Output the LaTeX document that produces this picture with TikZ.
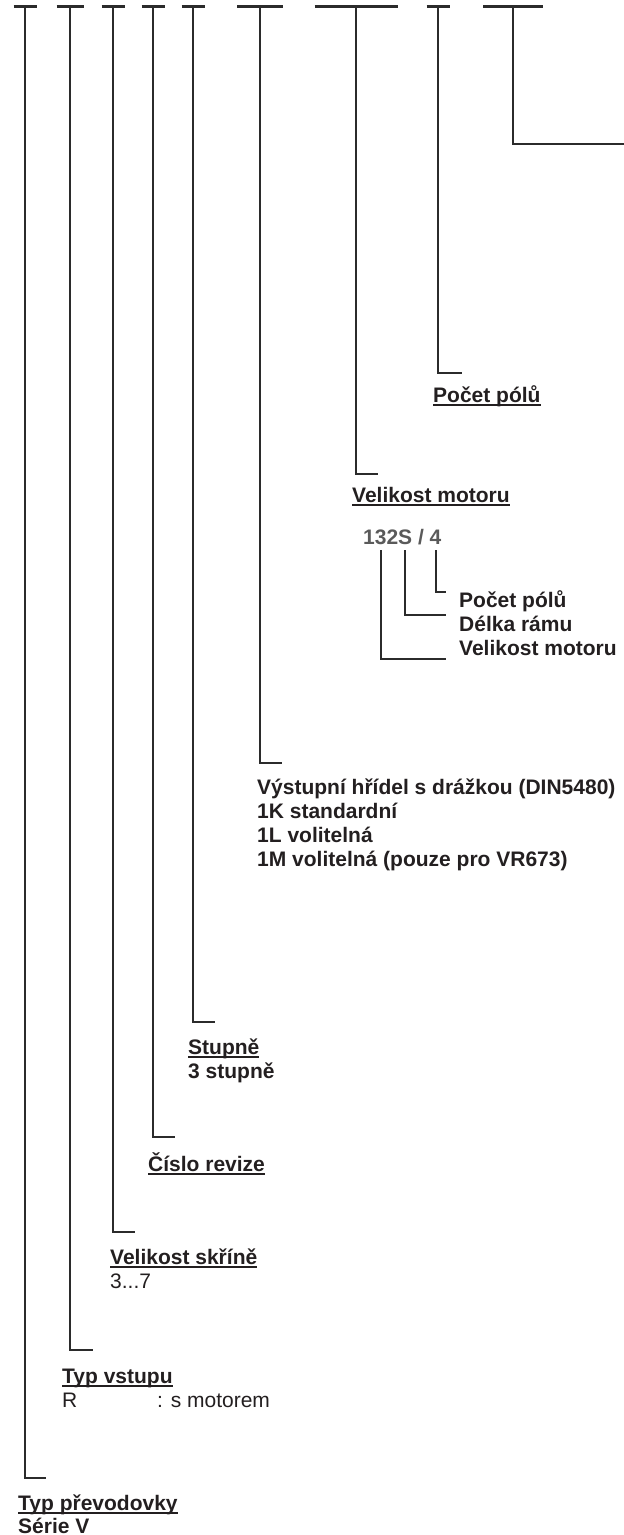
\documentclass[tikz,border=0pt]{standalone}
\usepackage{fontspec}
\setmainfont{Liberation Sans}
\usetikzlibrary{calc}
\definecolor{ink}{HTML}{231F20}
\definecolor{leadline}{HTML}{2B2B2B}
\definecolor{codegray}{HTML}{5A5A5A}
\newcommand\labfont{\fontsize{21}{24}\selectfont}
\newcommand\ulabel[1]{\setbox0\hbox{#1}\rlap{\rule[-3.5pt]{\wd0}{2pt}}\box0}
\tikzset{
  bar/.style  = {line width=3pt, draw=leadline},
  lead/.style = {line width=1.7pt, draw=leadline},
  hdr/.style  = {anchor=base west, inner sep=0pt, text=ink, font=\labfont\bfseries},
  txt/.style  = {anchor=base west, inner sep=0pt, text=ink, font=\labfont},
  codetxt/.style = {anchor=base west, inner sep=0pt, text=codegray, font=\labfont\bfseries},
}

\begin{document}
\begin{tikzpicture}[x=1pt, y=-1pt]
    \useasboundingbox (0,0) rectangle (624,1535);
    % tops of the code positions
    \coordinate (t1) at (25,6);
    \coordinate (t2) at (70,6);
    \coordinate (t3) at (113,6);
    \coordinate (t4) at (153,6);
    \coordinate (t5) at (193,6);
    \coordinate (t6) at (260,6);
    \coordinate (t7) at (356,6);
    \coordinate (t8) at (438,6);
    \coordinate (t9) at (513,6);
    % leader ends
    \coordinate (e1) at (46,1478);
    \coordinate (e2) at (93,1350);
    \coordinate (e3) at (135,1232);
    \coordinate (e4) at (175,1137);
    \coordinate (e5) at (215,1022);
    \coordinate (e6) at (282,763);
    \coordinate (e7) at (378,474);
    \coordinate (e8) at (462,373);
    \coordinate (e9) at (624,144);

    \draw[bar] ($(t1)-(11.5,0)$) -- ($(t1)+(11.5,0)$);
    \draw[bar] ($(t2)-(13.5,0)$) -- ($(t2)+(13.5,0)$);
    \draw[bar] ($(t3)-(11.5,0)$) -- ($(t3)+(11.5,0)$);
    \draw[bar] ($(t4)-(11.5,0)$) -- ($(t4)+(11.5,0)$);
    \draw[bar] ($(t5)-(11.5,0)$) -- ($(t5)+(11.5,0)$);
    \draw[bar] ($(t6)-(23,0)$) -- ($(t6)+(23,0)$);
    \draw[bar] ($(t7)-(41.5,0)$) -- ($(t7)+(41.5,0)$);
    \draw[bar] ($(t8)-(11.5,0)$) -- ($(t8)+(11.5,0)$);
    \draw[bar] ($(t9)-(30,0)$) -- ($(t9)+(30,0)$);

    \draw[lead] (t1) |- (e1);
    \draw[lead] (t2) |- (e2);
    \draw[lead] (t3) |- (e3);
    \draw[lead] (t4) |- (e4);
    \draw[lead] (t5) |- (e5);
    \draw[lead] (t6) |- (e6);
    \draw[lead] (t7) |- (e7);
    \draw[lead] (t8) |- (e8);
    \draw[lead] (t9) |- (e9);

    \node[hdr] (poles) at (433,402.5) {\ulabel{Počet pólů}};
    \node[hdr] (motor) at (352,502.5) {\ulabel{Velikost motoru}};

    % motor code example
    \node[codetxt] (kod) at (363,544.5) {132S / 4};
    \coordinate (ka) at (381,550);
    \coordinate (kb) at (405,550);
    \coordinate (kc) at (436,550);
    \coordinate (kae) at (446,659);
    \coordinate (kbe) at (446,615);
    \coordinate (kce) at (446,592);
    \draw[lead] (ka) |- (kae);
    \draw[lead] (kb) |- (kbe);
    \draw[lead] (kc) |- (kce);
    \node[hdr] (kpoles) at (459,607.5) {Počet pólů};
    \node[hdr] (kframe) at (459,631.5) {Délka rámu};
    \node[hdr] (ksize)  at (459,655.5) {Velikost motoru};

    \node[hdr] (shaft)  at (257,794.5) {Výstupní hřídel s drážkou (DIN5480)};
    \node[hdr] (shaftk) at (257,818.5) {1K standardní};
    \node[hdr] (shaftl) at (257,842.5) {1L volitelná};
    \node[hdr] (shaftm) at (257,866.5) {1M volitelná (pouze pro VR673)};

    \node[hdr] (stages)  at (188,1054.5) {\ulabel{Stupně}};
    \node[hdr] (stages3) at (188,1078.5) {3 stupně};

    \node[hdr] (rev) at (148,1171.5) {\ulabel{Číslo revize}};

    \node[hdr] (box)   at (110,1264.5) {\ulabel{Velikost skříně}};
    \node[txt] (box37) at (110,1288.5) {3...7};

    \node[hdr] (input)  at (62,1383.5) {\ulabel{Typ vstupu}};
    \node[txt] (inputr) at (62,1407.5) {R};
    \node[txt] (inputs) at (157,1407.5) {: s motorem};

    \node[hdr] (gear)  at (18,1510.5) {\ulabel{Typ převodovky}};
    \node[hdr] (serie) at (18,1533.5) {Série V};
\end{tikzpicture}
\end{document}
